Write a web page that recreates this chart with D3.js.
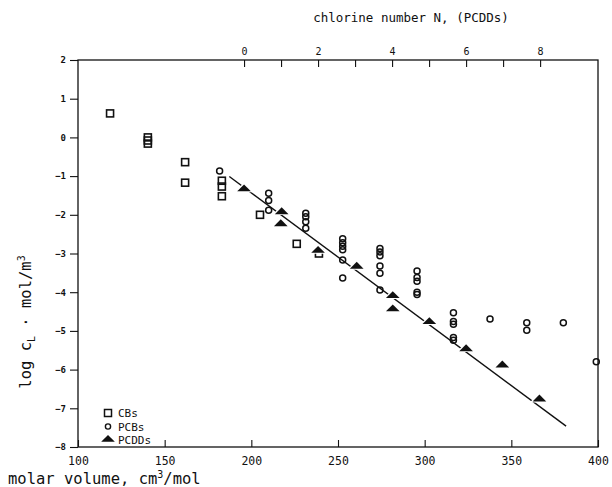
<!DOCTYPE html>
<html>
<head>
<meta charset="utf-8">
<script src="https://cdn.jsdelivr.net/npm/d3@7"></script>
<style>
  body { margin: 0; background: #fff; }
  svg text { font-family: "DejaVu Sans Mono", monospace; fill: #111; }
</style>
</head>
<body>
<div id="chart"></div>
<script>
// molar volume (cm3/mol) vs log cL
var cb_vol = [118.5, 140.3, 140.3, 140.3, 161.8, 161.8, 183, 183, 183, 205, 226.2, 239];
var cb_logc = [0.62, 0.0, -0.08, -0.16, -0.64, -1.17, -1.12, -1.27, -1.52, -2.0, -2.75, -3.0];

var pcb_vol = [181.7, 210, 210, 210, 231.4, 231.4, 231.4, 231.4,
    252.7, 252.7, 252.7, 252.7, 252.7, 252.7,
    274.2, 274.2, 274.2, 274.2, 274.2, 274.2,
    295.6, 295.6, 295.6, 295.6, 295.6,
    316.6, 316.6, 316.6, 316.6, 316.6,
    337.7, 358.9, 358.9, 380, 399];
var pcb_logc = [-0.87, -1.44, -1.63, -1.88, -1.96, -2.05, -2.18, -2.35,
    -2.62, -2.72, -2.81, -2.90, -3.17, -3.63,
    -2.87, -2.96, -3.06, -3.32, -3.51, -3.94,
    -3.45, -3.62, -3.72, -4.0, -4.06,
    -4.53, -4.76, -4.83, -5.17, -5.24,
    -4.69, -4.79, -4.98, -4.79, -5.8];

var pcdd_vol = [195.8, 217.5, 217, 238.5, 260.8, 281.6, 281.6, 302.7, 323.9, 344.8, 366.2];
var pcdd_logc = [-1.36, -1.95, -2.26, -2.95, -3.36, -4.12, -4.46, -4.79, -5.49, -5.91, -6.79];

// regression line ends
var fit_vol = [187.3, 381.6];
var fit_logc = [-1.01, -7.46];

var x_ticks = [100, 150, 200, 250, 300, 350, 400];
var y_ticks = [2, 1, 0, -1, -2, -3, -4, -5, -6, -7, -8];
var n_ticks = [0, 1, 2, 3, 4, 5, 6, 7, 8];
var n_labels = [0, 2, 4, 6, 8];

var width = 612, height = 487,
    m_left = 78, m_right = 598, m_top = 60, m_bottom = 447;

var svg = d3.select("#chart").append("svg")
    .attr("width", width)
    .attr("height", height);

var x = d3.scaleLinear().domain([100, 400]).range([m_left, m_right]);
var y = d3.scaleLinear().domain([-8, 2]).range([m_bottom, m_top]);
// chlorine number -> molar volume of PCDDs
var n_to_vol = d3.scaleLinear().domain([0, 8]).range([195.8, 366.6]);
var xn = d3.scaleLinear().domain([0, 8]).range([x(n_to_vol(0)), x(n_to_vol(8))]);

// frame
svg.append("rect")
    .attr("x", m_left).attr("y", m_top)
    .attr("width", m_right - m_left).attr("height", m_bottom - m_top)
    .attr("fill", "none").attr("stroke", "#111").attr("stroke-width", 1.3);

// bottom axis, ticks pointing in
var xAxis = svg.append("g")
    .attr("transform", "translate(0," + m_bottom + ")")
    .call(d3.axisBottom(x).tickValues(x_ticks).tickSizeInner(-7).tickSizeOuter(0).tickPadding(11));
xAxis.select(".domain").remove();
xAxis.selectAll("text").attr("font-size", 11.5).attr("dy", "0.6em");

// left axis, ticks out
var yAxis = svg.append("g")
    .attr("transform", "translate(" + m_left + ",0)")
    .call(d3.axisLeft(y).tickValues(y_ticks).tickSize(8).tickPadding(4));
yAxis.select(".domain").remove();
yAxis.selectAll("text").attr("font-size", 9).attr("font-weight", "bold");

// top axis (chlorine number), ticks down
var nAxis = svg.append("g")
    .attr("transform", "translate(0," + m_top + ")")
    .call(d3.axisTop(xn).tickValues(n_ticks).tickSizeInner(-7).tickSizeOuter(0)
        .tickFormat(function(d) { return n_labels.indexOf(d) >= 0 ? d : ""; }).tickPadding(5));
nAxis.select(".domain").remove();
nAxis.selectAll("text").attr("font-size", 10);

svg.selectAll(".tick line").attr("stroke", "#111").attr("stroke-width", 1.1);

// fit line
svg.append("line")
    .attr("x1", x(fit_vol[0])).attr("y1", y(fit_logc[0]))
    .attr("x2", x(fit_vol[1])).attr("y2", y(fit_logc[1]))
    .attr("stroke", "#111").attr("stroke-width", 1.4);

var tri = d3.symbol().type(d3.symbolTriangle).size(48);

// CBs
svg.append("g").selectAll("rect")
    .data(d3.zip(cb_vol, cb_logc))
    .enter().append("rect")
    .attr("x", function(d) { return x(d[0]) - 3.5; })
    .attr("y", function(d) { return y(d[1]) - 3.5; })
    .attr("width", 7).attr("height", 7)
    .attr("fill", "none").attr("stroke", "#111").attr("stroke-width", 1.6);

// PCBs
svg.append("g").selectAll("circle")
    .data(d3.zip(pcb_vol, pcb_logc))
    .enter().append("circle")
    .attr("cx", function(d) { return x(d[0]); })
    .attr("cy", function(d) { return y(d[1]); })
    .attr("r", 3)
    .attr("fill", "none").attr("stroke", "#111").attr("stroke-width", 1.5);

// PCDDs, white halo to break the line
svg.append("g").selectAll("path")
    .data(d3.zip(pcdd_vol, pcdd_logc))
    .enter().append("path")
    .attr("d", tri)
    .attr("transform", function(d) { return "translate(" + x(d[0]) + "," + (y(d[1]) - 1) + ") scale(1.3,0.75)"; })
    .attr("fill", "#111").attr("stroke", "#fff").attr("stroke-width", 2.5)
    .attr("paint-order", "stroke");

// legend
var lg = svg.append("g").attr("transform", "translate(108,413)");
lg.append("rect").attr("x", -3.5).attr("y", -3.5).attr("width", 7).attr("height", 7)
    .attr("fill", "none").attr("stroke", "#111").attr("stroke-width", 1.5);
lg.append("circle").attr("cx", 0).attr("cy", 13.5).attr("r", 2.6)
    .attr("fill", "none").attr("stroke", "#111").attr("stroke-width", 1.4);
lg.append("path").attr("d", tri).attr("transform", "translate(0,26.5) scale(1.3,0.75)").attr("fill", "#111");
lg.selectAll("text.lab")
    .data(["CBs", "PCBs", "PCDDs"])
    .enter().append("text")
    .attr("x", 10).attr("y", function(d, i) { return i * 13.5 + 4; })
    .attr("font-size", 11)
    .text(function(d) { return d; });

// axis titles
svg.append("text")
    .attr("x", 411).attr("y", 22)
    .attr("text-anchor", "middle").attr("font-size", 12.5)
    .text("chlorine number N, (PCDDs)");

var xt = svg.append("text")
    .attr("x", 8).attr("y", 484)
    .attr("font-size", 15.5);
xt.append("tspan").text("molar volume, cm");
xt.append("tspan").attr("font-size", 10).attr("dy", -6).text("3");
xt.append("tspan").attr("dy", 6).text("/mol");

var yt = svg.append("text")
    .attr("transform", "translate(31,322) rotate(-90)")
    .attr("text-anchor", "middle").attr("font-size", 15.5);
yt.append("tspan").text("log c");
yt.append("tspan").attr("font-size", 10).attr("dy", 4).text("L");
yt.append("tspan").attr("dy", -4).text("  ·  mol/m");
yt.append("tspan").attr("font-size", 10).attr("dy", -6).text("3");
</script>
</body>
</html>
